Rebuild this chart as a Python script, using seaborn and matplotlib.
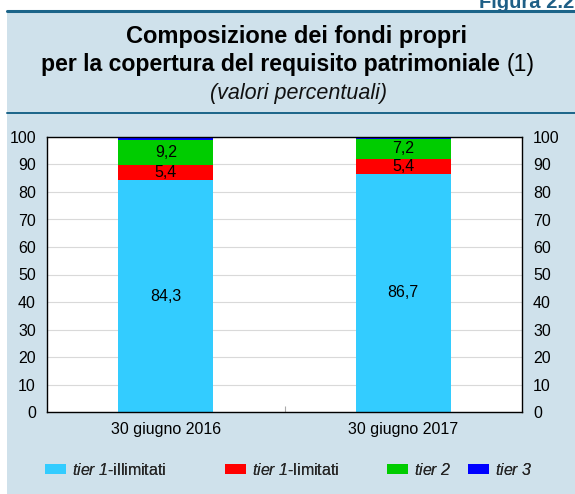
import matplotlib
matplotlib.use("Agg")
import matplotlib.pyplot as plt
from matplotlib.patches import Rectangle, Patch
from matplotlib.lines import Line2D
import numpy as np
import pandas as pd
import seaborn as sns

# ---- data -------------------------------------------------------------
periods = ["30 giugno 2016", "30 giugno 2017"]
tier1_unlimited = [84.3, 86.7]
tier1_limited = [5.4, 5.4]
tier2 = [9.2, 7.2]
tier3 = [1.1, 0.7]

series_names = [r"$\mathrm{tier\ 1}$-illimitati", r"$\mathrm{tier\ 1}$-limitati",
                r"$\mathrm{tier\ 2}$", r"$\mathrm{tier\ 3}$"]
series_colors = ["#33ccff", "#ff0000", "#00cc00", "#0000ff"]
yticks = [0, 10, 20, 30, 40, 50, 60, 70, 80, 90, 100]

# ---- style ------------------------------------------------------------
sns.set_theme(style="white")
plt.rcParams["font.family"] = ["Liberation Sans", "DejaVu Sans"]
# math segments are used only for the italic "tier n" parts of the legend
plt.rcParams["mathtext.fontset"] = "custom"
plt.rcParams["mathtext.rm"] = "Liberation Sans:italic"
plt.rcParams["mathtext.it"] = "Liberation Sans:italic"
plt.rcParams["mathtext.bf"] = "Liberation Sans:bold"

BG = "#cfe1eb"
RULE = "#1b6489"
FS = 11.5

W, H = 575, 494
fig = plt.figure(figsize=(W / 100, H / 100), dpi=100)
fig.patch.set_facecolor("white")

def fx(px):
    return px / W

def fy(py):
    return 1 - py / H

# panel background and rules
fig.patches.append(Rectangle((fx(7), 0), 1 - fx(7), fy(11), transform=fig.transFigure,
                             facecolor=BG, edgecolor="none", zorder=-5))
fig.add_artist(Line2D([fx(7), 1], [fy(11), fy(11)], transform=fig.transFigure,
                      color=RULE, lw=2.2, zorder=-4))
fig.add_artist(Line2D([fx(7), 1], [fy(113), fy(113)], transform=fig.transFigure,
                      color=RULE, lw=1.4, zorder=-4))
fig.text(fx(574), fy(8), "Figura 2.2", ha="right", va="baseline",
         fontsize=14.5, fontweight="bold", color="#1f5f86")

# titles
fig.text(fx(297), fy(37), "Composizione dei fondi propri", ha="center", va="center",
         fontsize=17, fontweight="bold", color="black")
line2_bold = "per la copertura del requisito patrimoniale "
line2_note = "(1)"
t_bold = fig.text(0, fy(65), line2_bold, ha="left", va="center", fontsize=16.6,
                  fontweight="bold", color="black")
t_note = fig.text(0, fy(65), line2_note, ha="left", va="center", fontsize=16.6,
                  color="black")
renderer = fig.canvas.get_renderer()
wb = t_bold.get_window_extent(renderer).width
wn = t_note.get_window_extent(renderer).width
x0 = 288 - (wb + wn) / 2
t_bold.set_x(fx(x0))
t_note.set_x(fx(x0 + wb))
fig.text(fx(298), fy(93), "(valori percentuali)", ha="center", va="center",
         fontsize=15.5, fontstyle="italic", color="#111111")

# ---- plot area ----------------------------------------------------------
ax = fig.add_axes([fx(47), fy(412), fx(522) - fx(47), fy(137) - fy(412)])
ax.set_facecolor("white")

df = pd.DataFrame({
    "period": periods,
    "t1u": tier1_unlimited,
    "t1l": tier1_limited,
    "t2": tier2,
    "t3": tier3,
})
layers = ["t1u", "t1l", "t2", "t3"]
cum = df[layers].cumsum(axis=1)

# stacked bars: draw cumulative totals from the top layer down
for key, color in reversed(list(zip(layers, series_colors))):
    sns.barplot(data=df.assign(total=cum[key]), x="period", y="total", color=color,
                width=0.4, saturation=1, linewidth=0, ax=ax, zorder=2)

# segment value labels
for i in range(len(periods)):
    bottoms = (cum.iloc[i] - df.loc[i, layers]).values
    for j, key in enumerate(layers[:3]):
        v = df.loc[i, key]
        ax.text(i, bottoms[j] + v / 2, f"{v:.1f}".replace(".", ","), ha="center",
                va="center", fontsize=FS, color="black", zorder=3)

ax.set_xlim(-0.5, 1.5)
ax.set_ylim(0, 100)
ax.set_yticks(yticks)
ax.set_xlabel("")
ax.set_ylabel("")
ax.yaxis.grid(True, color="#d9d9d9", lw=0.8, zorder=0)
ax.set_axisbelow(True)
ax.tick_params(axis="y", length=0, labelsize=FS, labelleft=True, labelright=True,
               pad=8, labelcolor="black")
ax.tick_params(axis="x", length=0, labelsize=FS, pad=7, labelcolor="black")
ax.set_xticks([0.5], minor=True)
ax.tick_params(axis="x", which="minor", direction="in", length=4, color="#aaaaaa",
               width=0.8, bottom=True)
for s in ax.spines.values():
    s.set_color("black")
    s.set_linewidth(1.0)

# ---- legend -------------------------------------------------------------
legend_x = [45, 225, 387, 468]
for name, color, lx in zip(series_names, series_colors, legend_x):
    lg = fig.legend(handles=[Patch(facecolor=color, edgecolor="none", label=name)],
                    loc="center left", bbox_to_anchor=(fx(lx), fy(470)),
                    frameon=False, fontsize=FS, handlelength=1.3, handleheight=0.6,
                    handletextpad=0.42, borderpad=0, borderaxespad=0)
    fig.add_artist(lg)

fig.savefig("out.png", dpi=100, facecolor=fig.get_facecolor())
